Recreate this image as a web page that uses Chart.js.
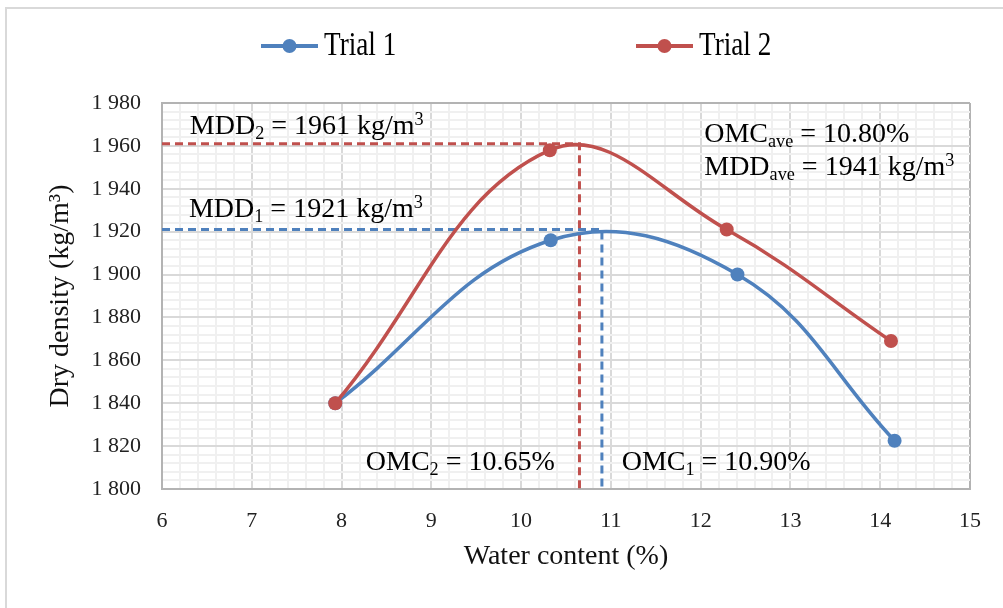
<!DOCTYPE html>
<html><head><meta charset="utf-8">
<script src="https://cdn.jsdelivr.net/npm/chart.js@4.4.1/dist/chart.umd.min.js"></script>
<style>html,body{margin:0;padding:0;background:#fff;}#wrap{width:1003px;height:608px;position:relative;}</style>
</head><body><div id="wrap"><canvas id="c" width="1003" height="608"></canvas></div>
<script>
// ---- data ----
const seriesNames = ['Trial 1', 'Trial 2'];
const waterTrial1 = [7.93, 10.33, 12.41, 14.16];
const densityTrial1 = [1840, 1916, 1900, 1822.5];
const waterTrial2 = [7.93, 10.32, 12.29, 14.12];
const densityTrial2 = [1840, 1958, 1921, 1869];
const omcValues = [10.90, 10.65];   // OMC1, OMC2 (%)
const mddValues = [1921, 1961];     // MDD1, MDD2 (kg/m3)
const omcAverage = 10.80;
const mddAverage = 1941;
const xRange = [6, 15];
const yRange = [1800, 1980];

const BLUE = '#4f81bd', RED = '#c0504d';
const FONT = "'Liberation Serif', 'Times New Roman', serif";
Chart.defaults.font.family = FONT;

function pts(xs, ys) { return xs.map((x, i) => ({x: x, y: ys[i]})); }
function guide(omc, mdd) { return [{x: xRange[0], y: mdd}, {x: omc, y: mdd}, {x: omc, y: yRange[0]}]; }
function isInt(v, step) { const q = v / step; return Math.abs(q - Math.round(q)) < 1e-6; }
function fmtThousands(v) { const s = String(Math.round(v)); return s.length > 3 ? s.slice(0, s.length - 3) + ' ' + s.slice(-3) : s; }

// ---- plugins ----
const framePlugin = {
  id: 'frame',
  beforeDraw(chart) {
    const ctx = chart.ctx;
    ctx.save();
    ctx.fillStyle = '#fff';
    ctx.fillRect(0, 0, chart.width, chart.height);
    ctx.strokeStyle = '#d9d9d9';
    ctx.lineWidth = 2;
    ctx.strokeRect(6, 8, chart.width + 20, chart.height + 20);
    ctx.restore();
  }
};

const legendPlugin = {
  id: 'customLegend',
  afterDraw(chart) {
    const ctx = chart.ctx;
    const starts = [261, 636];
    const y = 46;
    let k = 0;
    chart.data.datasets.forEach(ds => {
      if (!ds.inLegend) return;
      const x = starts[ds.legendIndex];
      ctx.save();
      ctx.strokeStyle = ds.borderColor;
      ctx.lineWidth = 4;
      ctx.beginPath(); ctx.moveTo(x, y); ctx.lineTo(x + 57, y); ctx.stroke();
      ctx.fillStyle = ds.borderColor;
      ctx.beginPath(); ctx.arc(x + 28.5, y, 7, 0, Math.PI * 2); ctx.fill();
      ctx.translate(x + 63, y);
      ctx.scale(0.8, 1);
      ctx.fillStyle = '#000';
      ctx.font = '34px ' + FONT;
      ctx.textBaseline = 'middle';
      ctx.fillText(ds.label, 0, 0);
      ctx.restore();
      k++;
    });
  }
};

function drawRich(ctx, x, y, parts, size) {
  let cx = x;
  for (const p of parts) {
    const small = p.sub || p.sup;
    const s = small ? size * 0.65 : size;
    ctx.font = s + 'px ' + FONT;
    const dy = p.sub ? size * 0.18 : (p.sup ? -size * 0.3 : 0);
    ctx.fillText(p.t, cx, y + dy);
    cx += ctx.measureText(p.t).width;
  }
}

const notes = [
  {x: 6.31, y: 1965.7, parts: [{t: 'MDD'}, {t: '2', sub: true}, {t: ' = ' + mddValues[1] + ' kg/m'}, {t: '3', sup: true}]},
  {x: 6.30, y: 1927.0, parts: [{t: 'MDD'}, {t: '1', sub: true}, {t: ' = ' + mddValues[0] + ' kg/m'}, {t: '3', sup: true}]},
  {x: 12.04, y: 1962.0, parts: [{t: 'OMC'}, {t: 'ave', sub: true}, {t: ' = ' + omcAverage.toFixed(2) + '%'}]},
  {x: 12.04, y: 1946.6, parts: [{t: 'MDD'}, {t: 'ave', sub: true}, {t: ' = ' + mddAverage + ' kg/m'}, {t: '3', sup: true}]},
  {x: 8.27, y: 1808.8, parts: [{t: 'OMC'}, {t: '2', sub: true}, {t: ' = ' + omcValues[1].toFixed(2) + '%'}]},
  {x: 11.12, y: 1808.8, parts: [{t: 'OMC'}, {t: '1', sub: true}, {t: ' = ' + omcValues[0].toFixed(2) + '%'}]}
];

const notesPlugin = {
  id: 'notes',
  afterDatasetsDraw(chart) {
    const ctx = chart.ctx, xs = chart.scales.x, ys = chart.scales.y;
    ctx.save();
    ctx.fillStyle = '#000';
    ctx.textBaseline = 'alphabetic';
    ctx.textAlign = 'left';
    notes.forEach(n => drawRich(ctx, xs.getPixelForValue(n.x), ys.getPixelForValue(n.y), n.parts, 28));
    ctx.restore();
  }
};

// ---- chart ----
new Chart(document.getElementById('c'), {
  type: 'scatter',
  data: {
    datasets: [
      {label: seriesNames[1], inLegend: true, legendIndex: 1, data: pts(waterTrial2, densityTrial2), showLine: true, tension: 0.4,
       borderColor: RED, backgroundColor: RED, borderWidth: 3.5, pointRadius: 7, pointBorderWidth: 0, order: 0},
      {label: seriesNames[0], inLegend: true, legendIndex: 0, data: pts(waterTrial1, densityTrial1), showLine: true, tension: 0.4,
       borderColor: BLUE, backgroundColor: BLUE, borderWidth: 3.5, pointRadius: 7, pointBorderWidth: 0, order: 1},
      {label: 'MDD2 guide', data: guide(omcValues[1], mddValues[1]), showLine: true, tension: 0, borderColor: RED,
       borderWidth: 3, borderDash: [8, 5], pointRadius: 0, order: 2},
      {label: 'MDD1 guide', data: guide(omcValues[0], mddValues[0]), showLine: true, tension: 0, borderColor: BLUE,
       borderWidth: 3, borderDash: [8, 5], pointRadius: 0, order: 3}
    ]
  },
  options: {
    responsive: false,
    devicePixelRatio: 1,
    animation: false,
    layout: {padding: {left: 0, right: 33, top: 103, bottom: 0}},
    plugins: {legend: {display: false}, tooltip: {enabled: false}},
    scales: {
      x: {
        type: 'linear', min: xRange[0], max: xRange[1],
        afterFit(s) { s.height = 119; },
        ticks: {stepSize: 0.2, autoSkip: false, maxRotation: 0, padding: 19, color: '#222', font: {size: 22},
                callback: v => isInt(v, 1) ? String(Math.round(v)) : ''},
        grid: {drawTicks: false, lineWidth: 2,
               color: c => Math.abs(c.tick.value - xRange[1]) < 1e-6 ? '#b3b3b3' : (isInt(c.tick.value, 1) ? '#d9d9d9' : '#f0f0f0')},
        border: {display: true, color: '#b3b3b3', width: 2},
        title: {display: true, text: 'Water content (%)', color: '#111', font: {size: 28}, padding: {top: 0, bottom: 35}}
      },
      y: {
        type: 'linear', min: yRange[0], max: yRange[1],
        afterFit(s) { s.width = 162; },
        ticks: {stepSize: 4, autoSkip: false, padding: 21, color: '#222', font: {size: 22},
                callback: v => isInt(v, 20) ? fmtThousands(v) : ''},
        grid: {drawTicks: false, lineWidth: 2,
               color: c => Math.abs(c.tick.value - yRange[1]) < 1e-6 ? '#b3b3b3' : (isInt(c.tick.value, 20) ? '#d9d9d9' : '#f0f0f0')},
        border: {display: true, color: '#b3b3b3', width: 2},
        title: {display: true, text: 'Dry density (kg/m³)', color: '#111', font: {size: 28}, padding: {top: 44, bottom: 0}}
      }
    }
  },
  plugins: [framePlugin, notesPlugin, legendPlugin]
});
</script>
</body></html>
